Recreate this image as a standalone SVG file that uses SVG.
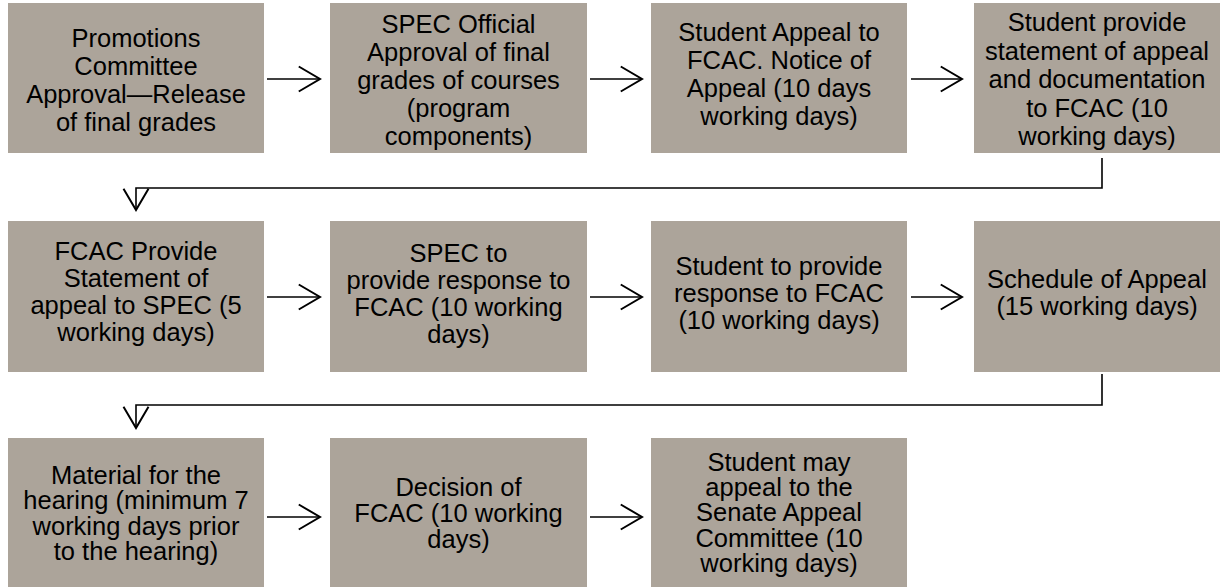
<svg xmlns="http://www.w3.org/2000/svg" width="1220" height="587" viewBox="0 0 1220 587">
<defs>
<style>
.box{fill:#aca49a;}
.t{font-family:"Liberation Sans",Arial,sans-serif;font-size:25.5px;fill:#000;text-anchor:middle;}
.c{fill:none;stroke:#000;stroke-width:1.6;}
</style>
<marker id="arr" markerUnits="userSpaceOnUse" markerWidth="30" markerHeight="30" viewBox="-20 -12 24 24" refX="0" refY="0" orient="auto" overflow="visible">
<path d="M-17,-10 L0,0 L-17,10" fill="none" stroke="#000" stroke-width="1.6"/>
</marker>
</defs>
<rect width="1220" height="587" fill="#fff"/>
<g id="n1"><rect class="box" x="8" y="3" width="256" height="150"/>
<text class="t"><tspan x="136" y="47">Promotions</tspan><tspan x="136" y="75">Committee</tspan><tspan x="136" y="103">Approval—Release</tspan><tspan x="136" y="131">of final grades</tspan></text></g>
<g id="n2"><rect class="box" x="330" y="3" width="257" height="150"/>
<text class="t"><tspan x="458.5" y="33">SPEC Official</tspan><tspan x="458.5" y="61">Approval of final</tspan><tspan x="458.5" y="89">grades of courses</tspan><tspan x="458.5" y="117">(program</tspan><tspan x="458.5" y="145">components)</tspan></text></g>
<g id="n3"><rect class="box" x="651" y="3" width="256" height="150"/>
<text class="t"><tspan x="779" y="41">Student Appeal to</tspan><tspan x="779" y="69">FCAC. Notice of</tspan><tspan x="779" y="97">Appeal (10 days</tspan><tspan x="779" y="125">working days)</tspan></text></g>
<g id="n4"><rect class="box" x="974" y="3" width="246" height="150"/>
<text class="t"><tspan x="1097" y="31">Student provide</tspan><tspan x="1097" y="59.5">statement of appeal</tspan><tspan x="1097" y="88">and documentation</tspan><tspan x="1097" y="116.5">to FCAC (10</tspan><tspan x="1097" y="145">working days)</tspan></text></g>
<g id="n5"><rect class="box" x="8" y="221" width="256" height="151"/>
<text class="t"><tspan x="136" y="260">FCAC Provide</tspan><tspan x="136" y="287">Statement of</tspan><tspan x="136" y="314">appeal to SPEC (5</tspan><tspan x="136" y="341">working days)</tspan></text></g>
<g id="n6"><rect class="box" x="330" y="221" width="257" height="151"/>
<text class="t"><tspan x="458.5" y="262">SPEC to</tspan><tspan x="458.5" y="289">provide response to</tspan><tspan x="458.5" y="316">FCAC (10 working</tspan><tspan x="458.5" y="343">days)</tspan></text></g>
<g id="n7"><rect class="box" x="651" y="221" width="256" height="151"/>
<text class="t"><tspan x="779" y="275">Student to provide</tspan><tspan x="779" y="302">response to FCAC</tspan><tspan x="779" y="329">(10 working days)</tspan></text></g>
<g id="n8"><rect class="box" x="974" y="221" width="246" height="151"/>
<text class="t"><tspan x="1097" y="288">Schedule of Appeal</tspan><tspan x="1097" y="315">(15 working days)</tspan></text></g>
<g id="n9"><rect class="box" x="8" y="438" width="256" height="150"/>
<text class="t"><tspan x="136" y="484">Material for the</tspan><tspan x="136" y="509">hearing (minimum 7</tspan><tspan x="136" y="535">working days prior</tspan><tspan x="136" y="560">to the hearing)</tspan></text></g>
<g id="n10"><rect class="box" x="330" y="438" width="257" height="150"/>
<text class="t"><tspan x="458.5" y="496">Decision of</tspan><tspan x="458.5" y="522">FCAC (10 working</tspan><tspan x="458.5" y="548">days)</tspan></text></g>
<g id="n11"><rect class="box" x="651" y="438" width="256" height="150"/>
<text class="t"><tspan x="779" y="471">Student may</tspan><tspan x="779" y="496">appeal to the</tspan><tspan x="779" y="521">Senate Appeal</tspan><tspan x="779" y="547">Committee (10</tspan><tspan x="779" y="572">working days)</tspan></text></g>
<g id="connectors">
<path class="c" d="M267,79 H320" marker-end="url(#arr)"/>
<path class="c" d="M590,79 H642" marker-end="url(#arr)"/>
<path class="c" d="M911,79 H962" marker-end="url(#arr)"/>
<path class="c" d="M1102,158 V188 H136 V210" marker-end="url(#arr)"/>
<path class="c" d="M267,297 H320" marker-end="url(#arr)"/>
<path class="c" d="M590,297 H642" marker-end="url(#arr)"/>
<path class="c" d="M911,297 H962" marker-end="url(#arr)"/>
<path class="c" d="M1102,374 V405 H136 V428" marker-end="url(#arr)"/>
<path class="c" d="M267,517 H320" marker-end="url(#arr)"/>
<path class="c" d="M590,517 H642" marker-end="url(#arr)"/>
</g>
</svg>
